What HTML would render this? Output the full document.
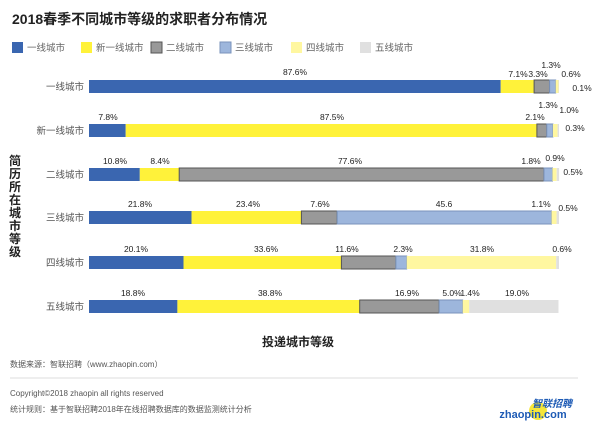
<!DOCTYPE html><html><head><meta charset="utf-8"><style>
body{margin:0;width:600px;height:427px;background:#fff;overflow:hidden;font-family:"Liberation Sans","Noto Sans CJK SC",sans-serif}
</style></head><body>
<svg id="s" width="600" height="427" xmlns="http://www.w3.org/2000/svg" font-family="Liberation Sans, Noto Sans CJK SC, sans-serif">
<text x="12" y="24" font-size="14" font-weight="bold" fill="#222">2018春季不同城市等级的求职者分布情况</text>
<g font-size="9.5" fill="#666">
<rect x="12" y="42" width="11" height="11" fill="#3a66b0"/><text x="27" y="51">一线城市</text>
<rect x="81" y="42" width="11" height="11" fill="#fff23a"/><text x="96" y="51">新一线城市</text>
<rect x="151" y="42" width="11" height="11" fill="#999" stroke="#555"/><text x="166" y="51">二线城市</text>
<rect x="220" y="42" width="11" height="11" fill="#9db6dc" stroke="#7a93bb"/><text x="235" y="51">三线城市</text>
<rect x="291" y="42" width="11" height="11" fill="#fff7a0"/><text x="306" y="51">四线城市</text>
<rect x="360" y="42" width="11" height="11" fill="#e0e0e0"/><text x="375" y="51">五线城市</text>
</g>
<g id="bars"></g>
<g font-size="12" font-weight="bold" fill="#222" text-anchor="middle">
<text x="15" y="165">简</text><text x="15" y="178">历</text><text x="15" y="191">所</text><text x="15" y="204">在</text><text x="15" y="217">城</text><text x="15" y="230">市</text><text x="15" y="243">等</text><text x="15" y="256">级</text>
<text x="298" y="346">投递城市等级</text>
</g>
<text x="10" y="367" font-size="8" fill="#555">数据来源：智联招聘（www.zhaopin.com）</text>
<line x1="10" y1="378" x2="578" y2="378" stroke="#ddd"/>
<text x="10" y="396" font-size="8" fill="#555">Copyright©2018 zhaopin all rights reserved</text>
<text x="10" y="412" font-size="8" fill="#555">统计规则：基于智联招聘2018年在线招聘数据库的数据监测统计分析</text>
<circle cx="538" cy="411" r="9" fill="#f5e63a"/>
<text x="552" y="407" font-size="10" font-weight="bold" fill="#1e5bb5" font-style="italic" text-anchor="middle">智联招聘</text>
<text x="533" y="418" font-size="11" font-weight="bold" fill="#1e5bb5" text-anchor="middle">zhaopin.com</text>
</svg>
<script>
var C=["#3a66b0","#fff23a","#999","#9db6dc","#fff7a0","#e0e0e0"],S=["#2f5aa0","#fff23a","#555","#7a93bb","#fff7a0","#e0e0e0"];
var names=["一线城市","新一线城市","二线城市","三线城市","四线城市","五线城市"];
var tops=[80,124,168,211,256,300];
var D=[[87.6,7.1,3.3,1.3,0.6,0.1],[7.8,87.5,2.1,1.3,1.0,0.3],[10.8,8.4,77.6,1.8,0.9,0.5],[21.8,23.4,7.6,45.6,1.1,0.5],[20.1,33.6,11.6,2.3,31.8,0.6],[18.8,38.8,16.9,5.0,1.4,19.0]];
var L=[["87.6%",295,75],["7.1%",518,77],["3.3%",538,77],["1.3%",551,68],["0.6%",571,77],["0.1%",582,91],
["7.8%",108,120],["87.5%",332,120],["2.1%",535,120],["1.3%",548,108],["1.0%",569,113],["0.3%",575,131],
["10.8%",115,164],["8.4%",160,164],["77.6%",350,164],["1.8%",531,164],["0.9%",555,161],["0.5%",573,175],
["21.8%",140,207],["23.4%",248,207],["7.6%",320,207],["45.6",444,207],["1.1%",541,207],["0.5%",568,211],
["20.1%",136,252],["33.6%",266,252],["11.6%",347,252],["2.3%",403,252],["31.8%",482,252],["0.6%",562,252],
["18.8%",133,296],["38.8%",270,296],["16.9%",407,296],["5.0%",452,296],["1.4%",470,296],["19.0%",517,296]];
var h="",k=4.7;
D.forEach(function(r,i){var x=89,y=tops[i];
h+='<text x="84" y="'+(y+10)+'" font-size="9.5" fill="#555" text-anchor="end">'+names[i]+'</text>';
r.forEach(function(v,j){var w=v*k;h+='<rect x="'+x.toFixed(1)+'" y="'+y+'" width="'+w.toFixed(1)+'" height="13" fill="'+C[j]+'" stroke="'+S[j]+'" stroke-width="'+(j==2||j==3?1:0)+'"/>';x+=w;});});
L.forEach(function(l){h+='<text x="'+l[1]+'" y="'+l[2]+'" font-size="8.5" fill="#222" text-anchor="middle">'+l[0]+'</text>';});
document.getElementById("bars").innerHTML=h;
</script>
</body></html>
